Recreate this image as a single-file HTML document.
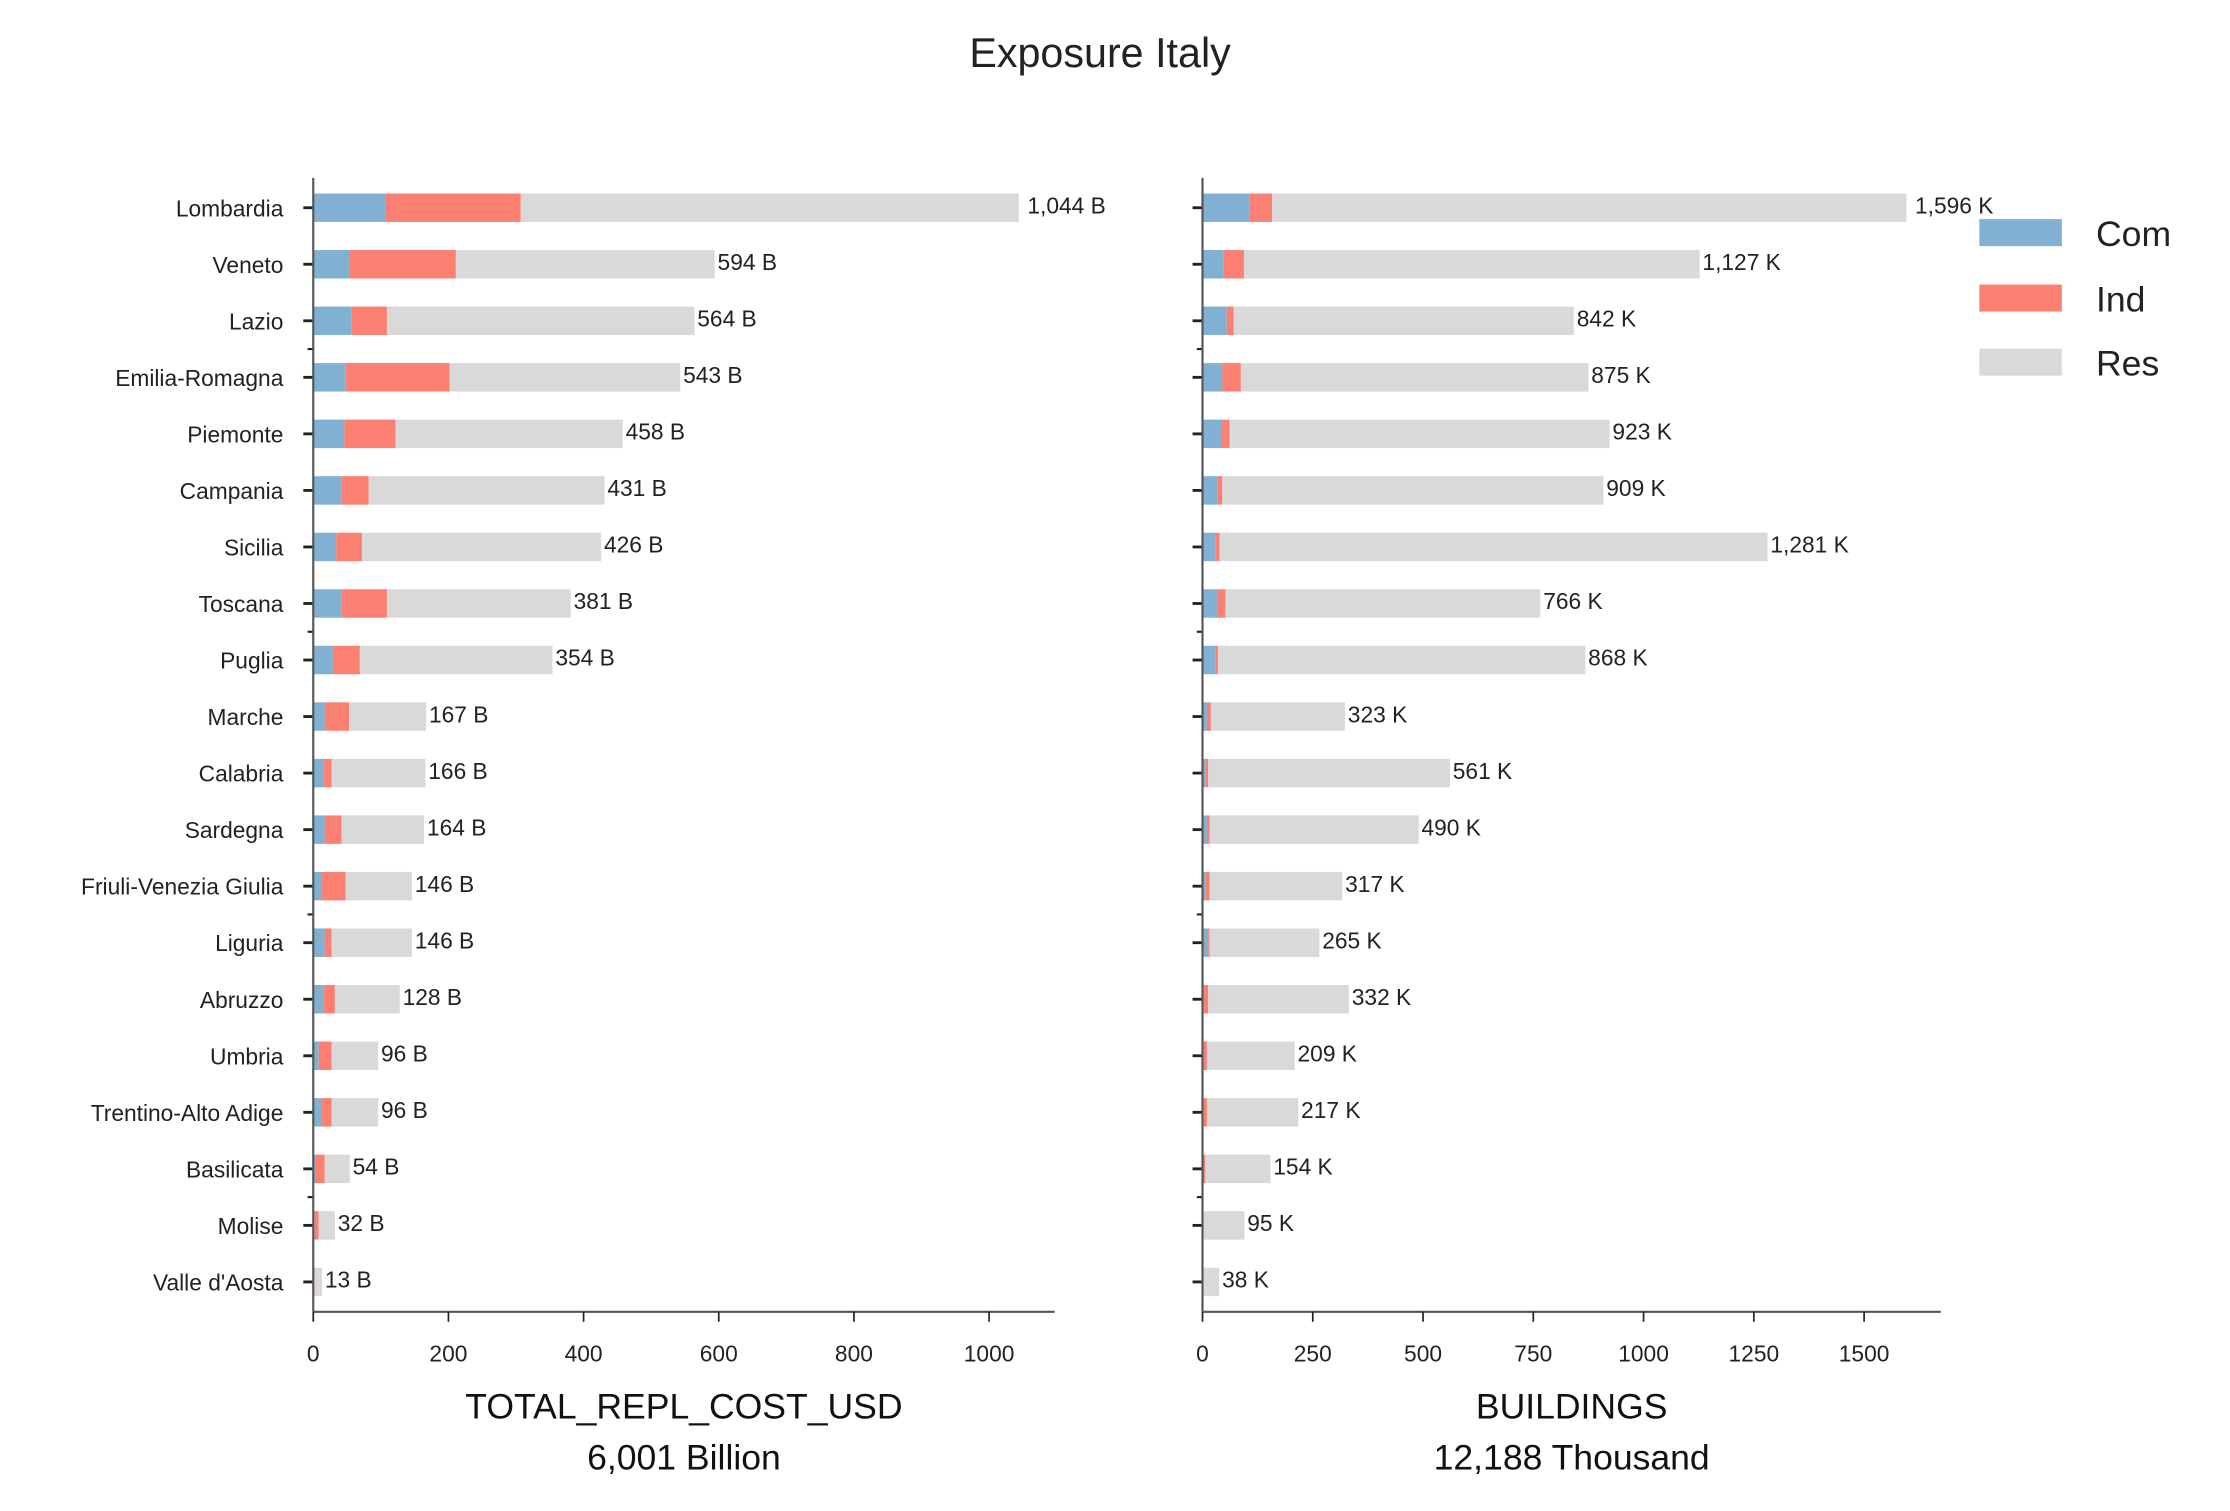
<!DOCTYPE html>
<html><head><meta charset="utf-8"><style>
html,body{margin:0;padding:0;background:#fff;}
svg{display:block;font-family:"Liberation Sans",sans-serif;}
</style></head><body>
<svg id="chart" width="2230" height="1511" viewBox="0 0 1567 1062" xmlns="http://www.w3.org/2000/svg">
<text x="773" y="47" font-size="29" text-anchor="middle" fill="#222">Exposure Italy</text>
<g id="left"></g>
<g id="right"></g>
<g>
<rect x="1391" y="154" width="58" height="19" fill="#80b1d3"/>
<text x="1473" y="173" font-size="25" fill="#222">Com</text>
<rect x="1391" y="200" width="58" height="19" fill="#fb8072"/>
<text x="1473" y="219" font-size="25" fill="#222">Ind</text>
<rect x="1391" y="245" width="58" height="19" fill="#d9d9d9"/>
<text x="1473" y="264" font-size="25" fill="#222">Res</text>
</g>
</svg>
<script>
const regions = ["Lombardia","Veneto","Lazio","Emilia-Romagna","Piemonte","Campania","Sicilia","Toscana","Puglia","Marche","Calabria","Sardegna","Friuli-Venezia Giulia","Liguria","Abruzzo","Umbria","Trentino-Alto Adige","Basilicata","Molise","Valle d'Aosta"];
const costCom = [107,53,57,48,46,42,34,42,29,17,15,17,13,17,15,8,13,4,2,1];
const costInd = [200,158,52,154,76,40,38,67,40,36,12,25,35,10,17,19,14,13,6,1];
const costTotal = [1044,594,564,543,458,431,426,381,354,167,166,164,146,146,128,96,96,54,32,13];
const bldCom = [106,48,55,45,42,35,29,35,29,10,6,10,6,13,3,3,3,1,1,1];
const bldInd = [52,46,16,42,19,10,10,17,6,9,7,6,10,3,10,7,7,5,1,1];
const bldTotal = [1596,1127,842,875,923,909,1281,766,868,323,561,490,317,265,332,209,217,154,95,38];
const costTicks = [0,200,400,600,800,1000];
const bldTicks = [0,250,500,750,1000,1250,1500];
const NS="http://www.w3.org/2000/svg";
function mk(parent,tag,attrs){const e=document.createElementNS(NS,tag);for(const k in attrs)e.setAttribute(k,attrs[k]);parent.appendChild(e);return e;}
const y0=146, dy=(901-146)/19, bh=20;
function yPos(i){return y0+i*dy;}
function panel(g,x0,scale,xmax,com,ind,tot,ticks,unit,title,sub,showLabels,key){
  const xs=v=>x0+v*scale;
  const xEnd=xs(xmax);
  const cx=(x0+xEnd)/2;
  regions.forEach((r,i)=>{
    const y=yPos(i);
    const c=com[i], d=ind[i], t=tot[i];
    let b=mk(g,'rect',{x:xs(0),y:y-bh/2,width:xs(c)-xs(0),height:bh,fill:'#80b1d3'});
    
    
    b=mk(g,'rect',{x:xs(c),y:y-bh/2,width:xs(c+d)-xs(c),height:bh,fill:'#fb8072'});
    
    
    b=mk(g,'rect',{x:xs(c+d),y:y-bh/2,width:Math.max(0,xs(t)-xs(c+d)),height:bh,fill:'#d9d9d9'});
    
    
    const lb=mk(g,'text',{x:xs(t)+(i===0?6:2),y:y+4,'font-size':16,fill:'#222'});
    lb.textContent=t.toLocaleString('en-US')+' '+unit;
    
    
    mk(g,'line',{x1:x0-7,x2:x0,y1:y,y2:y,stroke:'#222','stroke-width':2});
    if(showLabels){
      const tl=mk(g,'text',{x:x0-21,y:y+6,'font-size':16,fill:'#222','text-anchor':'end'});
      tl.textContent=r;
      
      
    }
  });
  [2.5,7.5,12.5,17.5].forEach(m=>mk(g,'line',{x1:x0-4,x2:x0,y1:yPos(m),y2:yPos(m),stroke:'#222','stroke-width':1.5}));
  mk(g,'line',{x1:x0,x2:x0,y1:125,y2:922,stroke:'#555','stroke-width':1.5});
  mk(g,'line',{x1:x0,x2:xEnd,y1:922,y2:922,stroke:'#555','stroke-width':1.5});
  ticks.forEach(t=>{
    mk(g,'line',{x1:xs(t),x2:xs(t),y1:922,y2:929,stroke:'#222','stroke-width':1.2});
    const tt=mk(g,'text',{x:xs(t),y:957,'font-size':16,fill:'#222','text-anchor':'middle'});
    tt.textContent=t;
    
    
  });
  const a=mk(g,'text',{x:cx,y:997,'font-size':25,fill:'#111','text-anchor':'middle'});
  a.textContent=title;
  
  
  const s=mk(g,'text',{x:cx,y:1033,'font-size':25,fill:'#111','text-anchor':'middle'});
  s.textContent=sub;
  
  
}
panel(document.getElementById('left'),220,0.475,1097,costCom,costInd,costTotal,costTicks,'B','TOTAL_REPL_COST_USD','6,001 Billion',true,'cost');
panel(document.getElementById('right'),845,0.31,1674,bldCom,bldInd,bldTotal,bldTicks,'K','BUILDINGS','12,188 Thousand',false,'buildings');
</script>
</body></html>
